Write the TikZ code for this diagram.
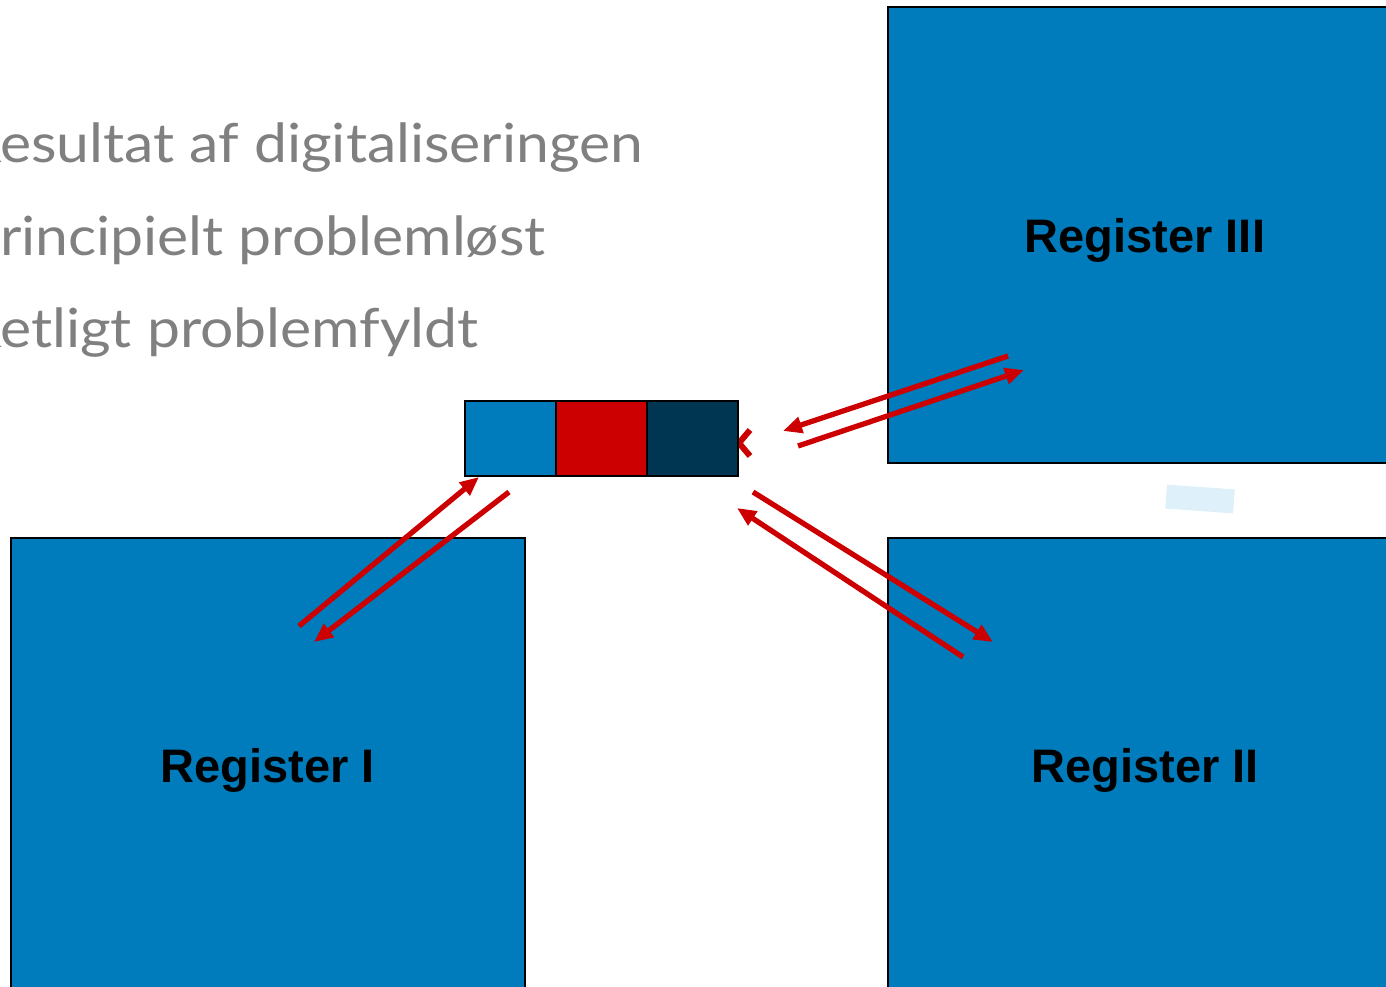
\documentclass[tikz,border=0pt]{standalone}
\usepackage{fontspec}
\setmainfont{Lato}
\newfontfamily\regfont{Liberation Sans}
\newfontfamily\pointfont[FakeStretch=1.09]{Lato}
\usetikzlibrary{positioning, arrows.meta}
\definecolor{regblue}{RGB}{0,123,187}
\definecolor{linkred}{RGB}{204,0,0}
\definecolor{navy}{RGB}{0,54,82}
\definecolor{txtgray}{RGB}{128,128,128}
\definecolor{paleblue}{RGB}{222,241,250}

\begin{document}
\begin{tikzpicture}[x=1pt,y=-1pt,
    reg/.style={draw, line width=2pt, fill=regblue, minimum width=514pt, minimum height=455pt,
      text depth=0pt, font=\regfont\bfseries\fontsize{47}{56}\selectfont},
    cell/.style={draw, line width=2pt, minimum width=91pt, minimum height=75pt, inner sep=0pt, outer sep=0pt},
    link/.style={draw=linkred, line width=5.3pt, -{Triangle[length=19pt,width=16pt]}},
    point/.style={anchor=base west, inner sep=0pt, text=txtgray, font=\pointfont\fontsize{54}{64}\selectfont}]
  \useasboundingbox (0,0) rectangle (1386,987);
  \clip (0,0) rectangle (1386,987);
  % bullet text, cut at the left edge
  \node[point] (p1) at (-35,163) {Resultat af digitaliseringen};
  \node[point] (p2) at (-35,255) {Principielt problemløst};
  \node[point] (p3) at (-35,347) {Retligt problemfyldt};
  % pale patch
  \fill[paleblue, rotate around={-4:(1200,499)}] (1166,487) rectangle (1234,511);
  % registers
  \node[reg] (reg3) at (1145,235) {Register III};
  \node[reg] (reg1) at (268,765) {Register I};
  \node[reg] (reg2) at (1145,765) {Register II};
  % red cross behind the record
  \draw[linkred, line width=6pt] (728,430) -- (750,456) (728,456) -- (750,430);
  % the record
  \node[cell, fill=regblue] (c1) at (510,438.5) {};
  \node[cell, fill=linkred] (c2) [right=0pt of c1] {};
  \node[cell, fill=navy] (c3) [right=0pt of c2] {};
  % arrow ends
  \coordinate (i1) at (299,626);  \coordinate (i2) at (479,477);
  \coordinate (i3) at (509,492);  \coordinate (i4) at (314,642);
  \coordinate (t1) at (1008,356); \coordinate (t2) at (783,431);
  \coordinate (t3) at (798,446);  \coordinate (t4) at (1024,370);
  \coordinate (s1) at (753,492);  \coordinate (s2) at (993,642);
  \coordinate (s3) at (963,657);  \coordinate (s4) at (737,508);
  \path[link] (i1) -- (i2);
  \path[link] (i3) -- (i4);
  \path[link] (t1) -- (t2);
  \path[link] (t3) -- (t4);
  \path[link] (s1) -- (s2);
  \path[link] (s3) -- (s4);
\end{tikzpicture}
\end{document}
